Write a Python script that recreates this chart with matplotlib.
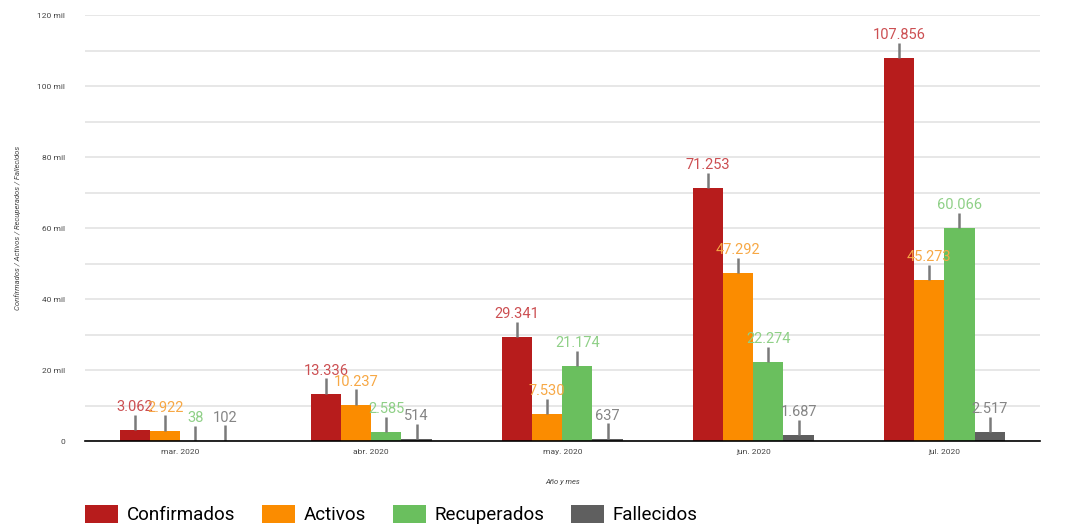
import matplotlib.pyplot as plt
import numpy as np
from matplotlib.patches import Patch

plt.rcParams["font.family"] = ["Roboto", "DejaVu Sans"]

months = ["mar. 2020", "abr. 2020", "may. 2020", "jun. 2020", "jul. 2020"]
confirmados = [3062, 13336, 29341, 71253, 107856]
activos = [2922, 10237, 7530, 47292, 45273]
recuperados = [38, 2585, 21174, 22274, 60066]
fallecidos = [102, 514, 637, 1687, 2517]

series_names = ["Confirmados", "Activos", "Recuperados", "Fallecidos"]
bar_colors = ["#b71c1c", "#fb8c00", "#6abf5e", "#5f5f5f"]
label_colors = ["#cc4f52", "#f7a845", "#8fd087", "#858585"]


def fmt(v):
    return f"{v:,}".replace(",", ".")


def main() -> None:
    fig = plt.figure(figsize=(10.72, 5.25), dpi=100)
    ax = fig.add_axes([0.079, 0.16, 0.891, 0.811])

    data = [confirmados, activos, recuperados, fallecidos]
    x = np.arange(len(months))
    w = 0.158
    offsets = (np.arange(4) - 1.5) * w

    for vals, off, bc, lc in zip(data, offsets, bar_colors, label_colors):
        xs = x + off
        ax.bar(xs, vals, width=w, color=bc, zorder=3)
        for xi, v in zip(xs, vals):
            # leader line and value label above each bar
            ax.plot([xi, xi], [v, v + 4300], color="#7a7a7a", lw=1.8, zorder=4,
                    solid_capstyle="butt")
            ax.text(xi, v + 4500, fmt(v), ha="center", va="bottom",
                    fontsize=10.5, color=lc, zorder=5)

    ax.set_xlim(-0.5, len(months) - 0.5)
    ax.set_ylim(0, 120000)
    ax.set_yticks(np.arange(0, 120001, 20000))
    ax.set_yticks(np.arange(10000, 120000, 20000), minor=True)
    ax.set_yticklabels(["0"] + [f"{v // 1000} mil" for v in range(20000, 120001, 20000)],
                       fontsize=6, color="#444444")
    ax.set_xticks(x)
    ax.set_xticklabels(months, fontsize=6, color="#444444")
    ax.tick_params(axis="x", which="both", length=0, pad=6)
    ax.tick_params(axis="y", which="both", length=0, pad=14)
    ax.grid(axis="y", which="both", color="#e0e0e0", lw=1.1, zorder=0)

    for s in ["top", "right", "left"]:
        ax.spines[s].set_visible(False)
    ax.spines["bottom"].set_color("black")
    ax.spines["bottom"].set_linewidth(1.2)
    ax.spines["bottom"].set_zorder(6)

    ax.set_xlabel("Año y mes", fontsize=5.5, style="italic", color="#444444", labelpad=17)
    ax.set_ylabel("Confirmados / Activos / Recuperados / Fallecidos", fontsize=5.5,
                  style="italic", color="#444444", labelpad=12)

    handles = [Patch(facecolor=c, label=n) for c, n in zip(bar_colors, series_names)]
    fig.legend(handles=handles, loc="lower left", bbox_to_anchor=(0.064, -0.03),
               ncol=4, frameon=False, fontsize=13.5, handlelength=1.75,
               handleheight=1.1, columnspacing=1.45, handletextpad=0.45)

    fig.savefig("out.png", dpi=100)


if __name__ == "__main__":
    main()
